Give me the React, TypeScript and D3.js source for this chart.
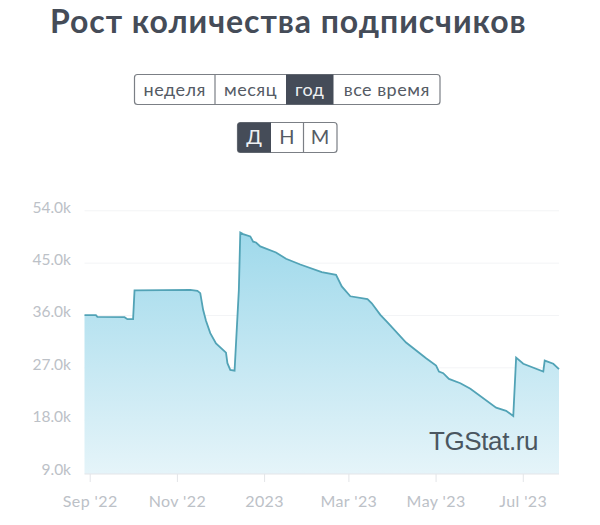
import React, { useEffect, useRef } from 'react';
import * as d3 from 'd3';

const dates = [
  '2022-08-28', '2022-09-05', '2022-09-06', '2022-09-25', '2022-09-27', '2022-10-01', '2022-10-02',
  '2022-10-22', '2022-11-10', '2022-11-15', '2022-11-17', '2022-11-19', '2022-11-21', '2022-11-24',
  '2022-11-28', '2022-12-05', '2022-12-06', '2022-12-08', '2022-12-11', '2022-12-14',
  '2022-12-15', '2022-12-17', '2022-12-22', '2022-12-24', '2022-12-26', '2022-12-29', '2023-01-09',
  '2023-01-16', '2023-01-26', '2023-02-10', '2023-02-20', '2023-02-24', '2023-03-02', '2023-03-14',
  '2023-03-17', '2023-03-23', '2023-03-28', '2023-04-10', '2023-04-24', '2023-05-01', '2023-05-03',
  '2023-05-06', '2023-05-10', '2023-05-18', '2023-05-25', '2023-06-12', '2023-06-19', '2023-06-24',
  '2023-06-26', '2023-07-01', '2023-07-15', '2023-07-16', '2023-07-22', '2023-07-26',
];
const subscribers = [
  36.05, 36.05, 35.77, 35.7, 35.37, 35.37, 40.3,
  40.36, 40.4, 40.24, 39.84, 36.97, 35.1, 32.96,
  31.2, 29.6, 27.8, 26.64, 26.5, 40.4,
  50.27, 50, 49.6, 48.7, 48.55, 47.87, 46.83,
  45.75, 44.77, 43.45, 43, 41, 39.3, 38.8,
  38.1, 36.1, 34.8, 31.35, 28.65, 27.4, 26.35,
  26.07, 25.1, 24.35, 23.4, 20.15, 19.6, 18.7,
  28.75, 27.7, 26.35, 28.25, 27.7, 26.76,
];
const yTicks = [9, 18, 27, 36, 45, 54];
const xTickDates = ['2022-09-01', '2022-11-01', '2023-01-01', '2023-03-01', '2023-05-01', '2023-07-01'];
const xTickLabels = ["Sep '22", "Nov '22", '2023', "Mar '23", "May '23", "Jul '23"];
const rangeLabels = ['неделя', 'месяц', 'год', 'все время'];
const rangeEdges = [134.5, 215, 286, 333.5, 440];
const stepLabels = ['Д', 'Н', 'М'];
const stepEdges = [237.5, 271, 303.5, 337];

const dark = '#454c58';
const font = 'Lato, "Noto Sans", sans-serif';

const App: React.FC = () => {
  const svgRef = useRef<SVGSVGElement>(null);

  useEffect(() => {
    if (!svgRef.current) return;
    const svg = d3.select(svgRef.current);
    svg.selectAll('*').remove();

    const parse = (s: string) => new Date(s + 'T00:00:00Z');
    const rows = dates.map((d, i) => ({ date: parse(d), value: subscribers[i] }));

    const x = d3.scaleUtc()
      .domain([parse('2022-08-28'), parse('2023-07-26')])
      .range([84.5, 559]);
    const y = d3.scaleLinear().domain([9, 54]).range([472.5, 210.8]);
    const baseline = 474;

    // Title
    svg.append('text')
      .attr('x', 50).attr('y', 33)
      .attr('font-family', font).attr('font-size', 32).attr('font-weight', 700)
      .attr('fill', dark)
      .attr('letter-spacing', 0.95)
      .text('Рост количества подписчиков');

    // Button groups
    const buttonGroup = (labels: string[], edges: number[], active: number, top: number, h: number, size: number) => {
      const g = svg.append('g');
      g.append('rect')
        .attr('x', edges[0]).attr('y', top)
        .attr('width', edges[edges.length - 1] - edges[0]).attr('height', h)
        .attr('rx', 3).attr('fill', '#fff').attr('stroke', '#7b7f85').attr('stroke-width', 1.2);
      labels.forEach((label, i) => {
        if (i === active) {
          const first = i === 0;
          g.append('path')
            .attr('d', first
              ? `M${edges[i] + 3},${top}H${edges[i + 1]}V${top + h}H${edges[i] + 3}Q${edges[i]},${top + h} ${edges[i]},${top + h - 3}V${top + 3}Q${edges[i]},${top} ${edges[i] + 3},${top}Z`
              : `M${edges[i]},${top}H${edges[i + 1]}V${top + h}H${edges[i]}Z`)
            .attr('fill', dark);
        }
        if (i > 0 && i !== active && i !== active + 1) {
          g.append('line')
            .attr('x1', edges[i]).attr('x2', edges[i])
            .attr('y1', top).attr('y2', top + h)
            .attr('stroke', '#7b7f85').attr('stroke-width', 1.2);
        }
        g.append('text')
          .attr('x', (edges[i] + edges[i + 1]) / 2)
          .attr('y', top + h / 2 + size * 0.34)
          .attr('text-anchor', 'middle')
          .attr('font-family', font).attr('font-size', size)
          .attr('letter-spacing', 0.5)
          .attr('fill', i === active ? '#eef0f2' : '#555b65')
          .text(label);
      });
    };
    buttonGroup(rangeLabels, rangeEdges, 2, 74.5, 30, 18);
    buttonGroup(stepLabels, stepEdges, 0, 122.5, 30, 20);

    // Gradient under the line
    const grad = svg.append('defs').append('linearGradient')
      .attr('id', 'areaFill').attr('x1', 0).attr('x2', 0).attr('y1', 0).attr('y2', 1);
    grad.append('stop').attr('offset', '0%').attr('stop-color', '#9fd9eb');
    grad.append('stop').attr('offset', '100%').attr('stop-color', '#e5f4f9');

    // Grid
    svg.append('g')
      .selectAll('line')
      .data(yTicks.filter(t => t > 9))
      .enter()
      .append('line')
      .attr('x1', 84.5).attr('x2', 559)
      .attr('y1', d => y(d)).attr('y2', d => y(d))
      .attr('stroke', '#f3f4f6').attr('stroke-width', 1);

    // Area and line
    const area = d3.area<{ date: Date; value: number }>()
      .x(d => x(d.date))
      .y0(baseline)
      .y1(d => y(d.value));
    const line = d3.line<{ date: Date; value: number }>()
      .x(d => x(d.date))
      .y(d => y(d.value));

    svg.append('path').attr('d', area(rows)).attr('fill', 'url(#areaFill)');
    svg.append('path').attr('d', line(rows))
      .attr('fill', 'none').attr('stroke', '#52a3b6').attr('stroke-width', 1.8);

    // Axes
    svg.append('line')
      .attr('x1', 84.5).attr('x2', 559).attr('y1', baseline).attr('y2', baseline)
      .attr('stroke', '#e3e5e8').attr('stroke-width', 1);

    const xAxis = svg.append('g');
    xTickDates.forEach((d, i) => {
      const px = x(parse(d));
      xAxis.append('line')
        .attr('x1', px).attr('x2', px).attr('y1', baseline).attr('y2', baseline + 8)
        .attr('stroke', '#e3e5e8').attr('stroke-width', 1);
      xAxis.append('text')
        .attr('x', px).attr('y', 507)
        .attr('text-anchor', 'middle')
        .attr('font-family', font).attr('font-size', 16).attr('letter-spacing', 0.4)
        .attr('fill', '#bcc1c7')
        .text(xTickLabels[i]);
    });

    svg.append('g')
      .selectAll('text')
      .data(yTicks)
      .enter()
      .append('text')
      .attr('x', 71).attr('y', d => y(d) + 2)
      .attr('text-anchor', 'end')
      .attr('font-family', font).attr('font-size', 15.5)
      .attr('fill', '#bcc1c7')
      .text(d => d.toFixed(1) + 'k');

    // Watermark
    svg.append('text')
      .attr('x', 429).attr('y', 450)
      .attr('font-family', '"Liberation Sans", Arial, sans-serif')
      .attr('font-size', 26).attr('letter-spacing', -0.4)
      .attr('fill', '#4a5660')
      .text('TGStat.ru');
  }, []);

  return (
    <svg
      ref={svgRef}
      width={600}
      height={525}
      style={{ position: 'absolute', left: 0, top: 0, background: '#fff' }}
    />
  );
};

export default App;
